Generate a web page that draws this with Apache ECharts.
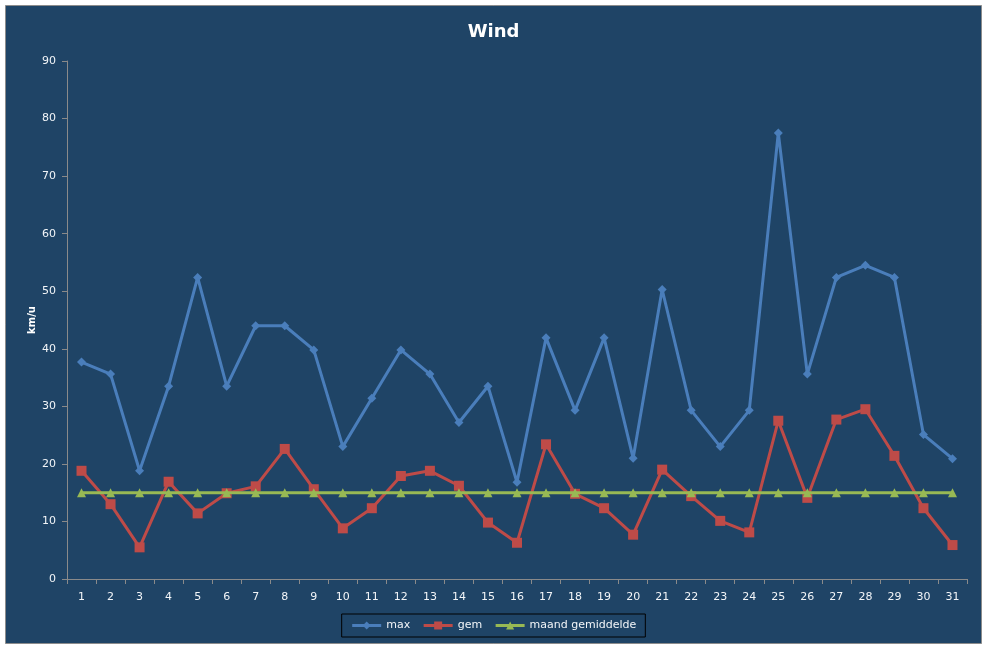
<!DOCTYPE html>
<html>
<head>
<meta charset="utf-8">
<script src="https://cdn.jsdelivr.net/npm/echarts@6/dist/echarts.min.js"></script>
<style>
  html, body { margin: 0; padding: 0; background: #ffffff; }
  #chart { width: 987px; height: 648px; }
</style>
</head>
<body>
<div id="chart"></div>
<script>
// days of the month
const days = ['1','2','3','4','5','6','7','8','9','10','11','12','13','14','15','16',
  '17','18','19','20','21','22','23','24','25','26','27','28','29','30','31'];

// wind values in km/u
const maxWind = [37.7, 35.6, 18.8, 33.5, 52.4, 33.5, 44.0, 44.0, 39.8, 23.0, 31.4, 39.8, 35.6, 27.2, 33.5, 16.8,
  41.9, 29.3, 41.9, 21.0, 50.3, 29.3, 23.0, 29.3, 77.5, 35.6, 52.4, 54.5, 52.4, 25.1, 20.9];
const gemWind = [18.8, 13.0, 5.5, 16.9, 11.4, 14.9, 16.1, 22.6, 15.6, 8.8, 12.3, 17.9, 18.8, 16.2, 9.8, 6.3,
  23.4, 14.8, 12.3, 7.7, 19.0, 14.4, 10.1, 8.1, 27.5, 14.1, 27.7, 29.5, 21.4, 12.3, 5.9];
const maandGem = days.map(() => 15.0);

const yTicks = { min: 0, max: 90, interval: 10 };

const chart = echarts.init(document.getElementById('chart'), null, { renderer: 'canvas' });
const font = 'DejaVu Sans';
const labelColor = '#f2f5f8';
const axisGrey = '#8a8a8a';

chart.setOption({
  animation: false,
  backgroundColor: 'transparent',
  textStyle: { fontFamily: font },
  graphic: [{
    type: 'rect',
    z: -10,
    silent: true,
    shape: { x: 5.5, y: 5.5, width: 976, height: 638 },
    style: { fill: '#1f4466', stroke: '#8c8c8c', lineWidth: 1 }
  }],
  title: {
    text: 'Wind',
    left: 'center',
    top: 18,
    textStyle: { color: '#ffffff', fontSize: 18, fontWeight: 'bold', fontFamily: font }
  },
  legend: {
    bottom: 11,
    left: 'center',
    itemWidth: 29,
    itemHeight: 10,
    itemGap: 12,
    padding: [6, 9],
    borderColor: '#000000',
    borderWidth: 1,
    lineStyle: { width: 3 },
    textStyle: { color: labelColor, fontSize: 11, fontFamily: font },
    data: ['max', 'gem', 'maand gemiddelde']
  },
  grid: { left: 67, right: 20, top: 61, bottom: 69, containLabel: false },
  xAxis: {
    type: 'category',
    data: days,
    boundaryGap: true,
    axisLine: { lineStyle: { color: axisGrey, width: 1 } },
    axisTick: { show: true, interval: 0, length: 5, lineStyle: { color: axisGrey } },
    axisLabel: { interval: 0, color: labelColor, fontSize: 11, margin: 13, fontFamily: font },
    splitLine: { show: false }
  },
  yAxis: {
    type: 'value',
    min: yTicks.min,
    max: yTicks.max,
    interval: yTicks.interval,
    name: 'km/u',
    nameLocation: 'middle',
    nameRotate: 90,
    nameGap: 30,
    nameMoveOverlap: false,
    nameTextStyle: { color: '#ffffff', fontSize: 10, fontWeight: 'bold', fontFamily: font },
    axisLine: { show: true, lineStyle: { color: axisGrey, width: 1 } },
    axisTick: { show: true, length: 5, lineStyle: { color: axisGrey } },
    axisLabel: { color: labelColor, fontSize: 11, margin: 11, fontFamily: font },
    splitLine: { show: false }
  },
  series: [
    {
      name: 'max',
      type: 'line',
      data: maxWind,
      symbol: 'diamond',
      symbolSize: 9,
      lineStyle: { color: '#4a7ebb', width: 3 },
      itemStyle: { color: '#4a7ebb' },
      z: 3
    },
    {
      name: 'gem',
      type: 'line',
      data: gemWind,
      symbol: 'rect',
      symbolSize: 10,
      lineStyle: { color: '#be4b48', width: 3 },
      itemStyle: { color: '#be4b48' },
      z: 2
    },
    {
      name: 'maand gemiddelde',
      type: 'line',
      data: maandGem,
      symbol: 'triangle',
      symbolSize: 9,
      lineStyle: { color: '#98b954', width: 3 },
      itemStyle: { color: '#98b954' },
      z: 4
    }
  ]
});
</script>
</body>
</html>
